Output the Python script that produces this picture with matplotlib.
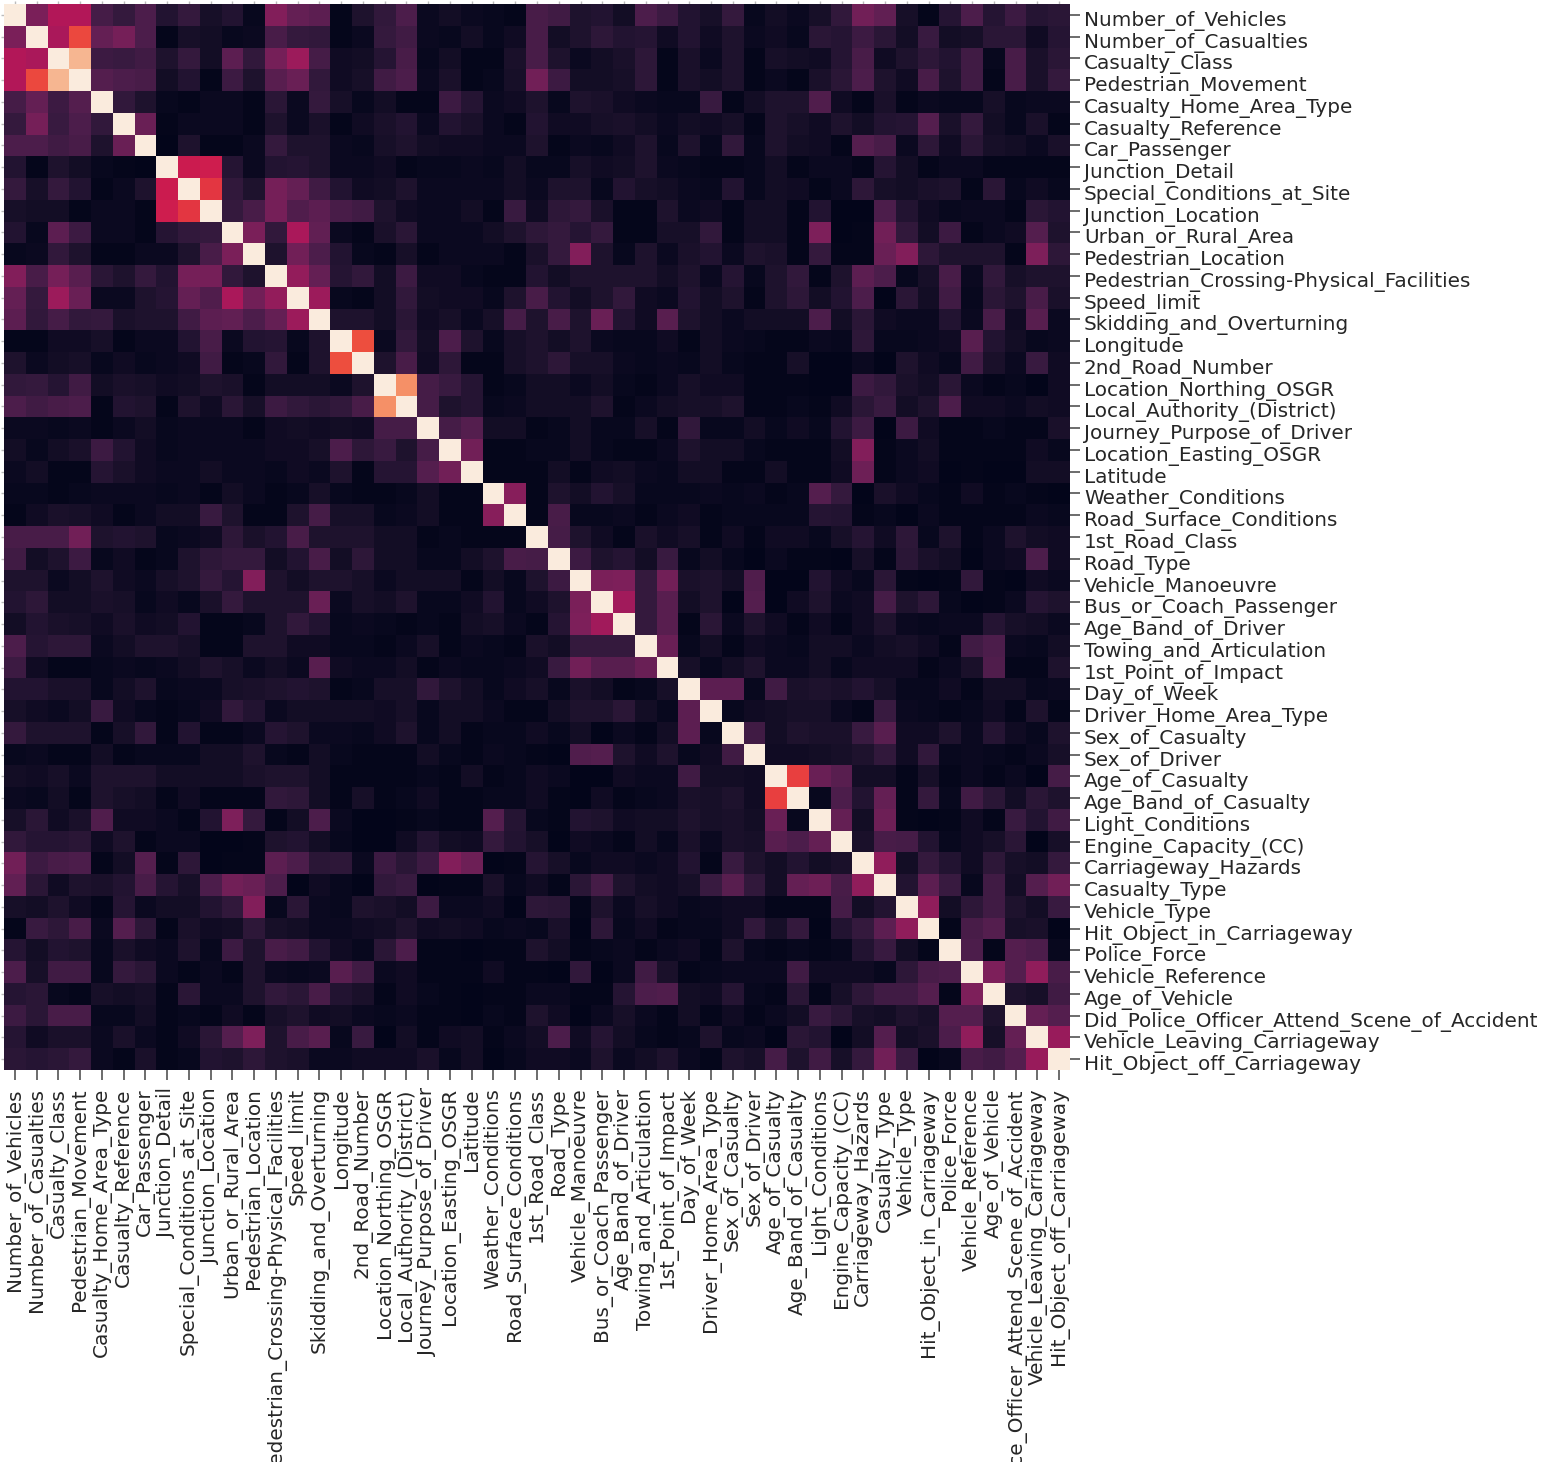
import matplotlib
matplotlib.use("Agg")
import matplotlib.pyplot as plt
from matplotlib.transforms import ScaledTranslation
import numpy as np
import pandas as pd
import seaborn as sns

labels = ["Number_of_Vehicles","Number_of_Casualties","Casualty_Class","Pedestrian_Movement","Casualty_Home_Area_Type","Casualty_Reference","Car_Passenger","Junction_Detail","Special_Conditions_at_Site","Junction_Location","Urban_or_Rural_Area","Pedestrian_Location","Pedestrian_Crossing-Physical_Facilities","Speed_limit","Skidding_and_Overturning","Longitude","2nd_Road_Number","Location_Northing_OSGR","Local_Authority_(District)","Journey_Purpose_of_Driver","Location_Easting_OSGR","Latitude","Weather_Conditions","Road_Surface_Conditions","1st_Road_Class","Road_Type","Vehicle_Manoeuvre","Bus_or_Coach_Passenger","Age_Band_of_Driver","Towing_and_Articulation","1st_Point_of_Impact","Day_of_Week","Driver_Home_Area_Type","Sex_of_Casualty","Sex_of_Driver","Age_of_Casualty","Age_Band_of_Casualty","Light_Conditions","Engine_Capacity_(CC)","Carriageway_Hazards","Casualty_Type","Vehicle_Type","Hit_Object_in_Carriageway","Police_Force","Vehicle_Reference","Age_of_Vehicle","Did_Police_Officer_Attend_Scene_of_Accident","Vehicle_Leaving_Carriageway","Hit_Object_off_Carriageway"]

# Upper triangle of the correlation matrix (x100), each row starts right after the diagonal
upper = [
[31,44,44,18,14,20,9,14,6,9,2,33,26,24,1, 8,13,20,3,5,3,2,1,19,17,8,9,5,20,16,9,6, 14,2,5,3,6,13,29,25,6,1,10,20,10,16,10,11],
[42,62,26,30,20,1,6,5,2,3,19,14,13,1, 3,14,17,3,2,5,2,4,19,5,8,12,9,10,4,9,4, 8,3,4,2,11,10,16,11,5,15,5,6,11,11,4,10],
[86,16,15,17,8,14,5,24,13,30,39,18,4, 5,10,19,2,5,1,1,7,19,8,3,5,7,12,1,7,3, 8,1,6,5,4,10,19,4,8,12,9,17,2,19,7,11],
[22,20,19,5,9,1,16,8,23,27,13,4, 6,17,20,3,7,1,2,6,29,16,5,5,6,12,1,7,5, 8,1,3,1,7,11,20,8,4,19,8,17,1,19,7,14],
[13,8,2,1,3,3,1,11,3,14,6, 2,5,1,1,16,10,3,4,8,2,8,7,4,3,2,2,15, 1,5,8,8,21,4,1,7,1,3,2,2,6,2,3,3],
[27,1,3,3,3,1,8,3,7,1, 4,7,9,3,9,7,3,1,9,4,4,6,7,5,3,5,4, 6,1,8,6,4,8,5,9,10,22,7,14,5,2,7,1],
[0,8,1,1,3,14,8,8,3, 2,6,8,5,4,4,3,3,8,1,3,2,4,8,2,8,2, 13,2,8,5,4,1,22,19,3,12,4,11,6,5,3,7],
[50,51,10,3,9,10,8,3, 3,4,1,2,2,3,2,5,2,2,6,4,5,8,3,2,1, 1,2,5,1,3,3,1,10,5,1,3,3,1,1,1,1],
[58,13,8,30,26,17,9, 4,5,8,3,3,3,3,5,3,8,8,2,9,6,5,3,2, 9,2,5,4,1,3,12,6,5,7,8,1,11,2,4,2],
[14,19,30,21,24,19, 17,8,4,3,3,5,1,15,4,12,14,7,1,1,8,3,4, 1,5,5,1,9,0,0,20,9,4,2,3,3,1,11,9],
[31,13,42,25,3, 1,7,11,3,3,3,5,8,12,14,10,14,1,1,6,6,13, 1,5,5,1,32,0,1,29,13,5,16,1,3,4,22,8],
[8,29,20,9, 2,1,6,1,3,3,3,1,7,14,33,8,2,8,3,7,9, 3,8,7,1,14,1,1,27,33,12,8,8,8,1,32,12],
[37,26,10, 13,5,16,4,4,2,1,1,9,5,8,8,8,8,5,8,3, 10,2,8,13,1,8,24,20,2,6,19,3,13,6,8,8],
[39,2, 1,5,13,5,4,4,2,8,19,9,5,8,13,4,3,9,5, 8,1,8,12,5,9,20,0,11,5,17,2,11,8,19,7],
[8, 8,5,11,4,6,3,6,18,8,19,8,27,9,4,23,8,5, 3,5,5,5,20,5,11,4,3,3,9,3,19,4,23,3],
[63,3,13,5,20,8,2,6,8,5,8,3,2,2,4,1,5, 3,2,1,1,3,2,12,2,2,3,4,23,9,5,2,3],
[8,19,4,12,1,1,6,8,12,6,6,3,2,3,2,5, 2,1,1,6,0,0,3,0,8,4,2,17,7,3,15,4],
[77,18,15,10,1,2,5,5,3,5,2,1,3,6,4, 4,1,1,1,0,0,16,13,7,5,11,3,1,2,0,4],
[18,8,10,2,3,5,5,5,8,1,3,5,6,6, 8,1,1,2,1,4,11,15,5,8,20,4,4,3,5,4],
[18,22,5,5,1,2,5,2,2,6,1,13,2, 2,5,2,4,2,9,16,0,16,4,1,1,2,1,1,7],
[29,1,1,2,2,5,2,1,1,3,8,5, 5,2,1,1,1,5,33,1,3,5,1,1,1,1,4,2],
[1,1,1,5,1,4,5,3,2,5,5, 1,1,5,1,1,4,28,1,3,4,0,1,0,0,5,5],
[34,1,8,5,9,6,2,2,2,3, 2,3,1,2,22,14,0,7,4,2,1,4,1,2,1,0],
[1,19,2,2,3,1,3,4,1, 2,2,2,2,10,9,1,2,0,3,1,1,1,1,3,2],
[18,8,4,1,7,4,6,1, 4,1,4,4,2,6,10,4,12,2,8,1,3,8,5,4],
[16,8,10,5,15,2,5, 2,0,3,1,1,0,6,1,11,7,5,0,3,4,20,4],
[31,32,14,29,7,8, 5,21,0,0,9,4,2,11,1,0,1,13,1,0,4,3],
[40,14,23,5,8, 0,22,0,4,8,3,4,18,8,12,2,0,1,3,10,8],
[14,23,1,11, 3,8,4,1,4,1,4,8,3,2,3,3,10,6,5,3],
[27,2,5, 1,4,3,2,5,5,3,5,6,4,1,17,20,3,2,5],
[6,2, 5,8,3,3,5,2,4,4,4,1,3,7,21,1,1,8],
[24, 24,2,17,7,8,7,9,6,2,2,4,1,5,5,2,3],
[2,4,5,6,6,3,1,15,3,2,1,2,4,1,8,1],
[17,5,8,7,7,15,23,4,4,8,3,10,4,2,8],
[4,4,5,6,8,13,4,13,2,3,2,1,3,6],
[60,27,23,5,5,1,6,1,3,1,3,0,18],
[2,20,9,26,1,14,2,17,11,5,11,8],
[26,5,28,1,0,1,4,1,15,9,17],
[7,19,18,9,2,4,6,11,0,6],
[36,5,14,9,4,12,6,5,14],
[9,24,15,2,17,5,22,29],
[36,5,12,17,8,5,15],
[1,19,22,6,7,0],
[20,1,22,20,2],
[32,22,36,19],
[8,6,17],
[26,22],
[38],
]

n = len(labels)
corr = np.eye(n)
for i, row in enumerate(upper):
    for j, v in enumerate(row):
        corr[i, i + 1 + j] = corr[i + 1 + j, i] = v / 100.0
df = pd.DataFrame(corr, index=labels, columns=labels)

W, H = 1542, 1462
fig = plt.figure(figsize=(W / 100, H / 100), dpi=100)
ax = fig.add_axes([4 / W, 1 - 1070 / H, (1070 - 4) / W, (1070 - 4) / H])
sns.heatmap(df, ax=ax, cmap="rocket", vmin=0, vmax=1, cbar=False,
            xticklabels=True, yticklabels=True, square=False)
ax.yaxis.tick_right()
ax.tick_params(axis="both", length=7, width=1.1, labelsize=14.4, color="#444444", labelcolor="#262626")
ax.tick_params(axis="y", labelrotation=0, pad=3)
ax.tick_params(axis="x", labelrotation=90, pad=6)

# the right-hand labels sit a little below their tick marks in the reference
shift = ScaledTranslation(0, -3.5 / 100, fig.dpi_scale_trans)
for lab in ax.get_yticklabels():
    lab.set_transform(lab.get_transform() + shift)

# faint tick remnants along the top and left edges, as in the reference
sec_top = ax.secondary_xaxis("top")
sec_top.set_xticks(ax.get_xticks())
sec_top.set_xticklabels([])
sec_top.tick_params(length=2.5, width=1, color="#bbbbbb")
sec_left = ax.secondary_yaxis("left")
sec_left.set_yticks(ax.get_yticks())
sec_left.set_yticklabels([])
sec_left.tick_params(length=2.5, width=1, color="#bbbbbb")
for sec in (sec_top, sec_left):
    for s in sec.spines.values():
        s.set_visible(False)

fig.savefig("out.png", dpi=100, facecolor="white")
